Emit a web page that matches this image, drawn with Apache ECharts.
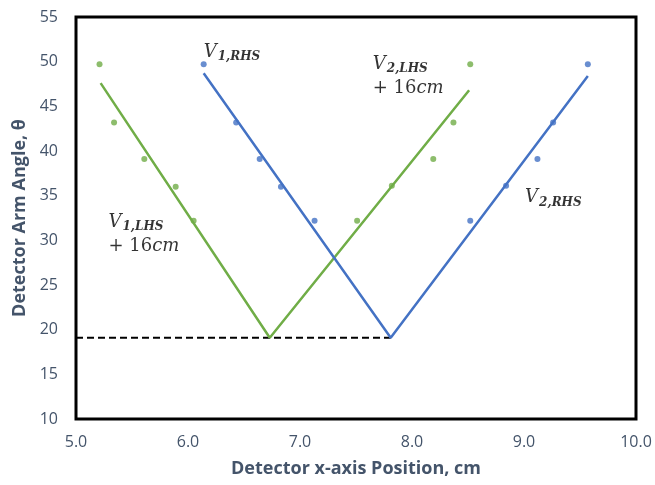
<!DOCTYPE html>
<html>
<head>
<meta charset="utf-8">
<script src="https://cdn.jsdelivr.net/npm/echarts@6/dist/echarts.min.js"></script>
<style>
  html, body { margin: 0; padding: 0; background: #fff; }
  #chart { width: 655px; height: 485px; }
</style>
</head>
<body>
<div id="chart"></div>
<script>
// measured points (x in cm, y in degrees)
const lhsX = [5.21, 5.34, 5.61, 5.89, 6.05, 7.51, 7.82, 8.19, 8.37, 8.52];
const lhsY = [49.7, 43.2, 39.1, 36.0, 32.2, 32.2, 36.1, 39.1, 43.2, 49.7];
const rhsX = [6.14, 6.43, 6.64, 6.83, 7.13, 8.52, 8.84, 9.12, 9.26, 9.57];
const rhsY = [49.7, 43.2, 39.1, 36.0, 32.2, 32.2, 36.1, 39.1, 43.2, 49.7];

// fitted V lines
const lhsFitX = [5.22, 6.73, 8.51];
const lhsFitY = [47.6, 19.1, 46.8];
const rhsFitX = [6.14, 7.81, 9.57];
const rhsFitY = [48.7, 19.1, 48.4];

// dashed minimum line
const minX = [5.0, 7.81];
const minY = [19.1, 19.1];

// annotation anchors
const noteX = [6.14, 7.65, 9.01, 5.29];
const noteY = [51.1, 48.4, 34.8, 30.7];
const noteText = [
  '{v|V}{s|1,RHS}',
  '{v|V}{s|2,LHS}\n{n|+ 16}{v|cm}',
  '{v|V}{s|2,RHS}',
  '{v|V}{s|1,LHS}\n{n|+ 16}{v|cm}'
];

const green = '#70AD47';
const blue = '#4472C4';
const axisColor = '#44546A';

const zip = (xs, ys) => xs.map((x, i) => [x, ys[i]]);

const chart = echarts.init(document.getElementById('chart'));

const option = {
  animation: false,
  grid: {
    left: 76, right: 19, top: 17, bottom: 66,
    show: true, borderColor: '#000', borderWidth: 3
  },
  xAxis: {
    type: 'value', min: 5, max: 10, interval: 1,
    name: 'Detector x-axis Position, cm',
    nameLocation: 'middle', nameGap: 41,
    nameTextStyle: { fontFamily: 'Open Sans', fontWeight: 'bold', fontSize: 18, color: axisColor },
    axisLine: { show: false },
    axisTick: { show: false },
    splitLine: { show: false },
    axisLabel: {
      fontFamily: 'Open Sans', fontSize: 16, color: axisColor, margin: 15,
      formatter: v => v.toFixed(1)
    }
  },
  yAxis: {
    type: 'value', min: 10, max: 55, interval: 5,
    name: 'Detector Arm Angle, θ',
    nameLocation: 'middle', nameGap: 45,
    nameTextStyle: { fontFamily: 'Open Sans', fontWeight: 'bold', fontSize: 18, color: axisColor },
    axisLine: { show: false },
    axisTick: { show: false },
    splitLine: { show: false },
    axisLabel: { fontFamily: 'Open Sans', fontSize: 16, color: axisColor, margin: 18 }
  },
  series: [
    {
      type: 'line', data: zip(minX, minY), symbol: 'none',
      lineStyle: { color: '#000', width: 2, type: [7, 4] }
    },
    {
      type: 'line', data: zip(lhsFitX, lhsFitY), symbol: 'none',
      lineStyle: { color: green, width: 2.5 }
    },
    {
      type: 'line', data: zip(rhsFitX, rhsFitY), symbol: 'none',
      lineStyle: { color: blue, width: 2.5 }
    },
    {
      type: 'scatter', data: zip(lhsX, lhsY), symbolSize: 6,
      itemStyle: { color: green }
    },
    {
      type: 'scatter', data: zip(rhsX, rhsY), symbolSize: 6,
      itemStyle: { color: blue }
    },
    {
      type: 'scatter', symbolSize: 0, silent: true,
      data: noteX.map((x, i) => ({
        value: [x, noteY[i]],
        label: { formatter: noteText[i] }
      })),
      label: {
        show: true, position: 'right', distance: 0,
        color: '#000',
        rich: {
          v: { fontFamily: 'DejaVu Serif', fontStyle: 'italic', fontSize: 18, color: '#000', lineHeight: 24 },
          s: { fontFamily: 'DejaVu Serif', fontStyle: 'italic', fontWeight: 'bold', fontSize: 12, color: '#000', padding: [10, 0, 0, 1] },
          n: { fontFamily: 'DejaVu Serif', fontSize: 18, color: '#000', lineHeight: 24 }
        }
      }
    }
  ]
};

chart.setOption(option);
</script>
</body>
</html>
